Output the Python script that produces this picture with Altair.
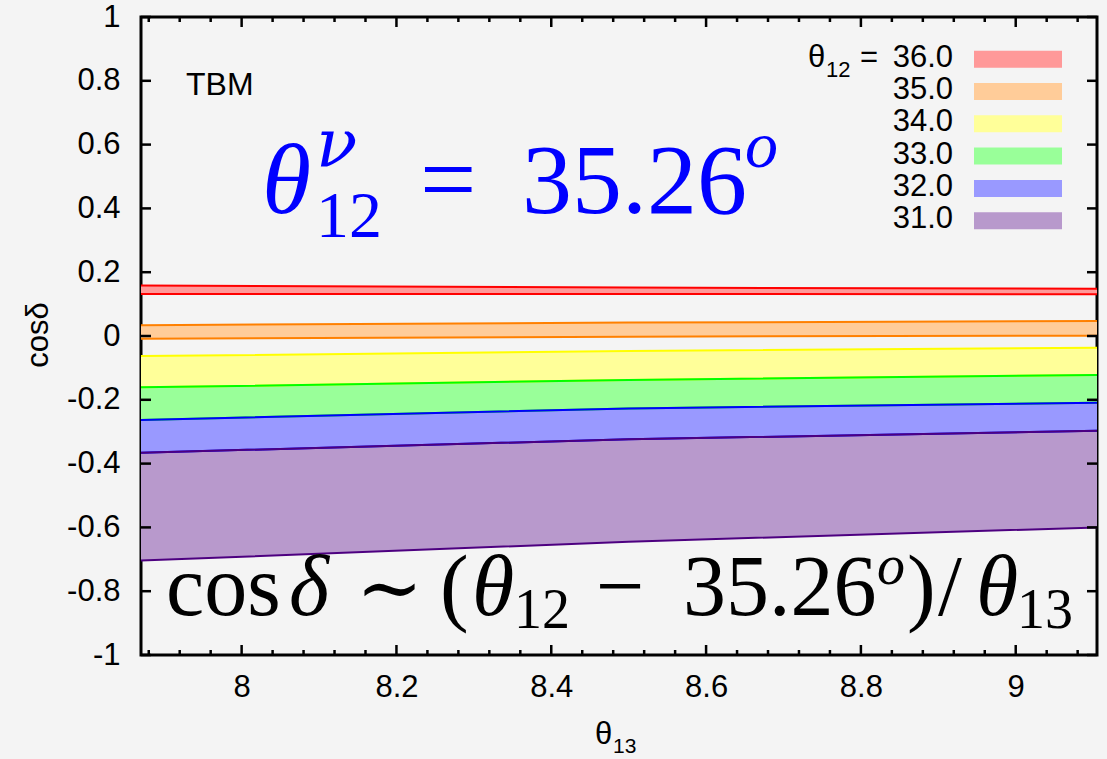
import altair as alt
import pandas as pd

# ---------------- data ----------------
theta13 = [7.87, 8.50, 9.105]
cats = ["36.0", "35.0", "34.0", "33.0", "32.0", "31.0"]
upper_36 = [0.158, 0.152, 0.148]
lower_36 = [0.132, 0.132, 0.131]
upper_35 = [0.034, 0.042, 0.047]
lower_35 = [-0.009, -0.002, 0.001]
upper_34 = [-0.063, -0.047, -0.037]
upper_33 = [-0.161, -0.138, -0.122]
upper_32 = [-0.263, -0.227, -0.209]
upper_31 = [-0.366, -0.324, -0.297]
lower_31 = [-0.704, -0.645, -0.600]

fill_colors = ["#ff9999", "#ffcc99", "#ffff99", "#99ff99", "#9999ff", "#b899cc"]
line_colors = ["#ff0000", "#ff8000", "#ffff00", "#00ff00", "#0000ff", "#4d0080"]

y_ticks = [-1, -0.8, -0.6, -0.4, -0.2, 0, 0.2, 0.4, 0.6, 0.8, 1]
x_major = [8, 8.2, 8.4, 8.6, 8.8, 9]
x_minor = [7.88, 7.92, 7.96, 8.04, 8.08, 8.12, 8.16, 8.24, 8.28, 8.32, 8.36,
           8.44, 8.48, 8.52, 8.56, 8.64, 8.68, 8.72, 8.76, 8.84, 8.88, 8.92,
           8.96, 9.04, 9.08]

uppers = [upper_36, upper_35, upper_34, upper_33, upper_32, upper_31]
lowers = [lower_36, lower_35, upper_33, upper_32, upper_31, lower_31]

rows = []
for c, hi, lo in zip(cats, uppers, lowers):
    for x, h, l in zip(theta13, hi, lo):
        rows.append({"cat": c, "x": x, "hi": h, "lo": l})
bands = pd.DataFrame(rows)

W, H = 956, 638
OX, OY = 141, 17
FS = 31
SANS = "Liberation Sans"

xs = alt.Scale(domain=[7.87, 9.105], nice=False, zero=False)
ys = alt.Scale(domain=[-1, 1], nice=False, zero=False)
fill_scale = alt.Scale(domain=cats, range=fill_colors)
line_scale = alt.Scale(domain=cats, range=line_colors)

xaxis = alt.Axis(values=x_major, format="~g", ticks=False, domain=False, grid=False,
                 labelFontSize=FS, labelFont=SANS, labelColor="black",
                 labelPadding=17, labelOverlap=False, title=None)
yaxis = alt.Axis(values=y_ticks, labelExpr="replace(format(datum.value, '~g'), '\u2212', '-')",
                 ticks=False, domain=False, grid=False, labelFontSize=FS,
                 labelFont=SANS, labelColor="black", labelPadding=21,
                 labelOverlap=False, title=None)

area = alt.Chart(bands).mark_area(opacity=1).encode(
    x=alt.X("x:Q", scale=xs, axis=xaxis),
    y=alt.Y("hi:Q", scale=ys, axis=yaxis),
    y2="lo:Q",
    color=alt.Color("cat:N", scale=fill_scale, legend=None),
)
lo_lines = alt.Chart(bands).mark_line(strokeWidth=2).encode(
    x=alt.X("x:Q", scale=xs, axis=xaxis),
    y=alt.Y("lo:Q", scale=ys, axis=yaxis),
    stroke=alt.Stroke("cat:N", scale=line_scale, legend=None),
)
hi_lines = alt.Chart(bands).mark_line(strokeWidth=2).encode(
    x=alt.X("x:Q", scale=xs, axis=xaxis),
    y=alt.Y("hi:Q", scale=ys, axis=yaxis),
    stroke=alt.Stroke("cat:N", scale=line_scale, legend=None),
)

# inward ticks
xmaj = pd.DataFrame({"t": x_major})
xmin = pd.DataFrame({"t": x_minor})
ytk = pd.DataFrame({"t": y_ticks})
tick_layers = []
for df, ln in [(xmaj, 10), (xmin, 5)]:
    tick_layers.append(alt.Chart(df).mark_rule(color="black", strokeWidth=2.5).encode(
        x=alt.X("t:Q", scale=xs, axis=xaxis), y=alt.value(H), y2=alt.value(H - ln)))
    tick_layers.append(alt.Chart(df).mark_rule(color="black", strokeWidth=2.5).encode(
        x=alt.X("t:Q", scale=xs, axis=xaxis), y=alt.value(0), y2=alt.value(ln)))
tick_layers.append(alt.Chart(ytk).mark_rule(color="black", strokeWidth=2.5).encode(
    y=alt.Y("t:Q", scale=ys, axis=yaxis), x=alt.value(0), x2=alt.value(10)))
tick_layers.append(alt.Chart(ytk).mark_rule(color="black", strokeWidth=2.5).encode(
    y=alt.Y("t:Q", scale=ys, axis=yaxis), x=alt.value(W), x2=alt.value(W - 10)))

# legend
leg = pd.DataFrame({"cat": cats, "idx": list(range(len(cats)))})
leg_base = alt.Chart(leg).transform_calculate(
    yc=f"{59.2 - OY} + 32.3 * datum.idx"
).transform_calculate(
    y0="datum.yc - 8.5", y1="datum.yc + 8.5", yb="datum.yc + 7.5"
)
leg_rect = leg_base.mark_rect().encode(
    x=alt.value(974 - OX), x2=alt.value(1062 - OX),
    y=alt.Y("y0:Q", scale=None, axis=None), y2="y1:Q",
    color=alt.Color("cat:N", scale=fill_scale, legend=None),
)
leg_text = leg_base.mark_text(align="right", baseline="alphabetic", fontSize=FS,
                              font=SANS, color="black").encode(
    x=alt.value(953 - OX), y=alt.Y("yb:Q", scale=None, axis=None), text="cat:N")


def txt(s, px, py, size, color="black", font="Liberation Serif", style="normal",
        align="left", angle=0):
    kw = dict(fontSize=size, font=font, fontStyle=style, color=color, align=align,
              baseline="alphabetic")
    if angle:
        kw["angle"] = angle
    return alt.Chart(pd.DataFrame({"s": [s]})).mark_text(**kw).encode(
        text="s:N", x=alt.value(px - OX), y=alt.value(py - OY))


BLUE = "#0000ff"
texts = [
    txt("θ", 808, 67, FS, font=SANS),
    txt("12", 826, 77, 22, font=SANS),
    txt("=", 860, 67, FS, font=SANS),
    txt("TBM", 186, 95, FS + 1, font=SANS),
    txt("cosδ", 48, 335, FS, font=SANS, align="center", angle=270),
    txt("θ", 595, 744, FS, font=SANS),
    txt("13", 613, 753, 21, font=SANS),
    # blue formula
    txt("θ", 262, 213, 100, color=BLUE, style="italic"),
    txt("ν", 316, 167, 68, color=BLUE, style="italic", font="DejaVu Serif"),
    txt("12", 316, 237, 66, color=BLUE),
    txt("=", 420, 213, 100, color=BLUE),
    txt("35.26", 522, 213, 100, color=BLUE),
    txt("o", 745, 167, 66, color=BLUE, style="italic"),
    # bottom formula
    txt("cos", 166, 615, 86),
    txt("δ", 289, 615, 86, style="italic"),
    txt("∼", 356, 615, 80, font="DejaVu Serif"),
    txt("(", 440, 615, 86),
    txt("θ", 472, 615, 86, style="italic"),
    txt("12", 514, 628, 56),
    txt("−", 596, 615, 86),
    txt("35.26", 683, 615, 86),
    txt("o", 877, 584, 56, style="italic"),
    txt(")", 907, 615, 86),
    txt("/", 938, 615, 86),
    txt("θ", 976, 615, 86, style="italic"),
    txt("13", 1017, 628, 56),
]

chart = alt.layer(area, lo_lines, hi_lines, *tick_layers, leg_rect, leg_text, *texts).properties(
    width=W, height=H,
    autosize=alt.AutoSizeParams(type="none"),
    padding={"left": OX, "top": OY, "right": 1107 - OX - W, "bottom": 759 - OY - H},
    background="#f4f4f4",
).configure_view(stroke="black", strokeWidth=3, fill="#f4f4f4")

chart.save("out.html", embed_options={"renderer": "svg", "actions": False})
